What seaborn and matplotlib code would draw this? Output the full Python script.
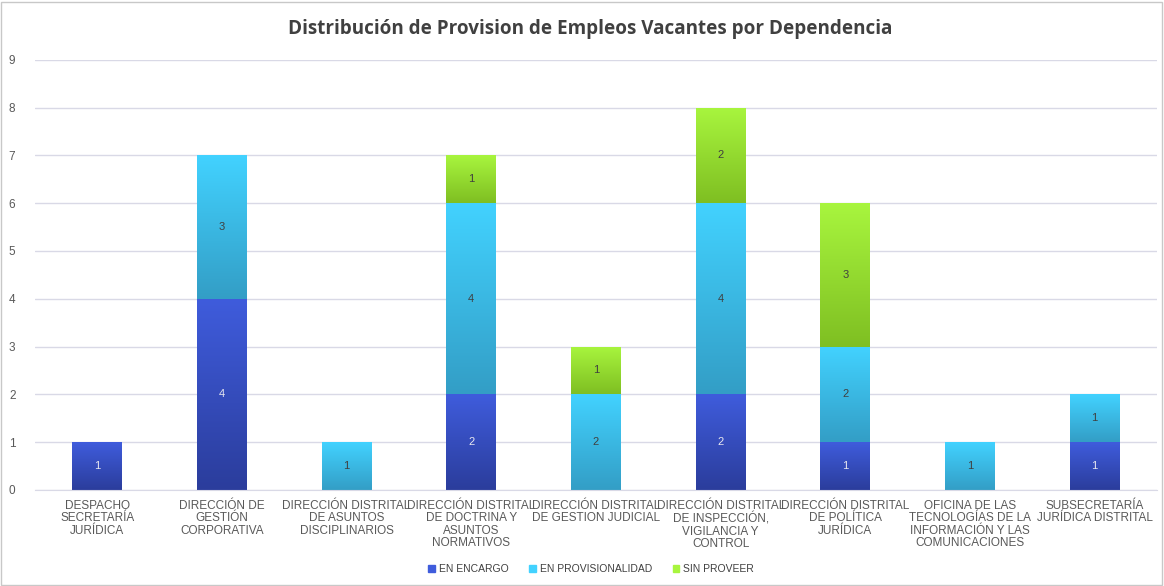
import numpy as np
import pandas as pd
import seaborn as sns
import matplotlib.pyplot as plt
from matplotlib.colors import LinearSegmentedColormap
from matplotlib.patches import Rectangle

# Data
dependencias = [
    'DESPACHO\nSECRETARÍA\nJURÍDICA',
    'DIRECCIÓN DE\nGESTIÓN\nCORPORATIVA',
    'DIRECCIÓN DISTRITAL\nDE ASUNTOS\nDISCIPLINARIOS',
    'DIRECCIÓN DISTRITAL\nDE DOCTRINA Y\nASUNTOS\nNORMATIVOS',
    'DIRECCIÓN DISTRITAL\nDE GESTION JUDICIAL',
    'DIRECCIÓN DISTRITAL\nDE INSPECCIÓN,\nVIGILANCIA Y\nCONTROL',
    'DIRECCIÓN DISTRITAL\nDE POLÍTICA\nJURÍDICA',
    'OFICINA DE LAS\nTECNOLOGÍAS DE LA\nINFORMACIÓN Y LAS\nCOMUNICACIONES',
    'SUBSECRETARÍA\nJURÍDICA DISTRITAL',
]
en_encargo = [1, 4, 0, 2, 0, 2, 1, 0, 1]
en_provisionalidad = [0, 3, 1, 4, 2, 4, 2, 1, 1]
sin_proveer = [0, 0, 0, 1, 1, 2, 3, 0, 0]

series_names = ['EN ENCARGO', 'EN PROVISIONALIDAD', 'SIN PROVEER']
series_values = [en_encargo, en_provisionalidad, sin_proveer]
# (bottom colour, top colour) of each gradient
series_colors = [('#2b3d9c', '#3f5cdc'), ('#339ec6', '#42d2ff'), ('#7fbf22', '#a8f53e')]
label_colors = ['#e8e8f0', '#404040', '#404040']

df = pd.DataFrame({'dependencia': dependencias})
for name, vals in zip(series_names, series_values):
    df[name] = vals

sns.set_style('white')
plt.rcParams['font.family'] = ['Liberation Sans', 'DejaVu Sans']

fig = plt.figure(figsize=(11.64, 5.86), dpi=100)
ax = fig.add_axes([0.030, 0.164, 0.964, 0.734])

bottoms = np.zeros(len(dependencias))
for name, (c0, c1), lc in zip(series_names, series_colors, label_colors):
    n_before = len(ax.patches)
    sns.barplot(data=df, x='dependencia', y=name, color=c1, width=0.40,
                ax=ax, zorder=2, linewidth=0)
    new_patches = ax.patches[n_before:]
    cmap = LinearSegmentedColormap.from_list(name, [c0, c1])
    vals = df[name].to_numpy()
    for i, p in enumerate(new_patches):
        p.set_y(bottoms[i])
        p.set_height(vals[i])
        if vals[i] == 0:
            p.set_visible(False)
            continue
        x, w = p.get_x(), p.get_width()
        grad = np.linspace(1, 0, 100).reshape(-1, 1)
        im = ax.imshow(grad, extent=[x, x + w, bottoms[i], bottoms[i] + vals[i]],
                       aspect='auto', cmap=cmap, vmin=0, vmax=1, zorder=2.5,
                       origin='upper')
        im.set_clip_path(p)
        ax.text(x + w / 2, bottoms[i] + vals[i] / 2, str(vals[i]),
                ha='center', va='center', fontsize=8, color=lc, zorder=4)
    bottoms += vals

ax.set_xlim(-0.5, len(dependencias) - 0.5)
ax.set_ylim(0, 9)
ax.set_yticks(range(0, 10))
ax.yaxis.grid(True, color='#d9d9e6', linewidth=1, zorder=0)
ax.set_axisbelow(True)
for s in ['top', 'right', 'left']:
    ax.spines[s].set_visible(False)
ax.spines['bottom'].set_color('#d9d9e6')
ax.tick_params(axis='y', length=0, labelsize=8.5, labelcolor='#595959', pad=14)
ax.tick_params(axis='x', length=0, labelsize=8.5, labelcolor='#595959', pad=7)
ax.set_xticks(range(len(dependencias)))
ax.set_xticklabels(dependencias, linespacing=1.05)
ax.set_xlabel('')
ax.set_ylabel('')

fig.suptitle('Distribución de Provision de Empleos Vacantes por Dependencia',
             x=0.507, y=0.968, fontsize=13.6, fontweight='bold', color='#404040',
             family=['Open Sans', 'DejaVu Sans'])

handles = [Rectangle((0, 0), 1, 1, color=c[1]) for c in series_colors]
fig.legend(handles, series_names, loc='center', bbox_to_anchor=(0.508, 0.029),
           ncol=3, frameon=False, fontsize=7.5, handlelength=0.6,
           handleheight=0.6, columnspacing=2.0, handletextpad=0.4,
           labelcolor='#404040')

fig.add_artist(Rectangle((0.001, 0.002), 0.997, 0.995, transform=fig.transFigure,
                         fill=False, edgecolor='#c8c8c8', linewidth=1))

fig.savefig('out.png', dpi=100)
